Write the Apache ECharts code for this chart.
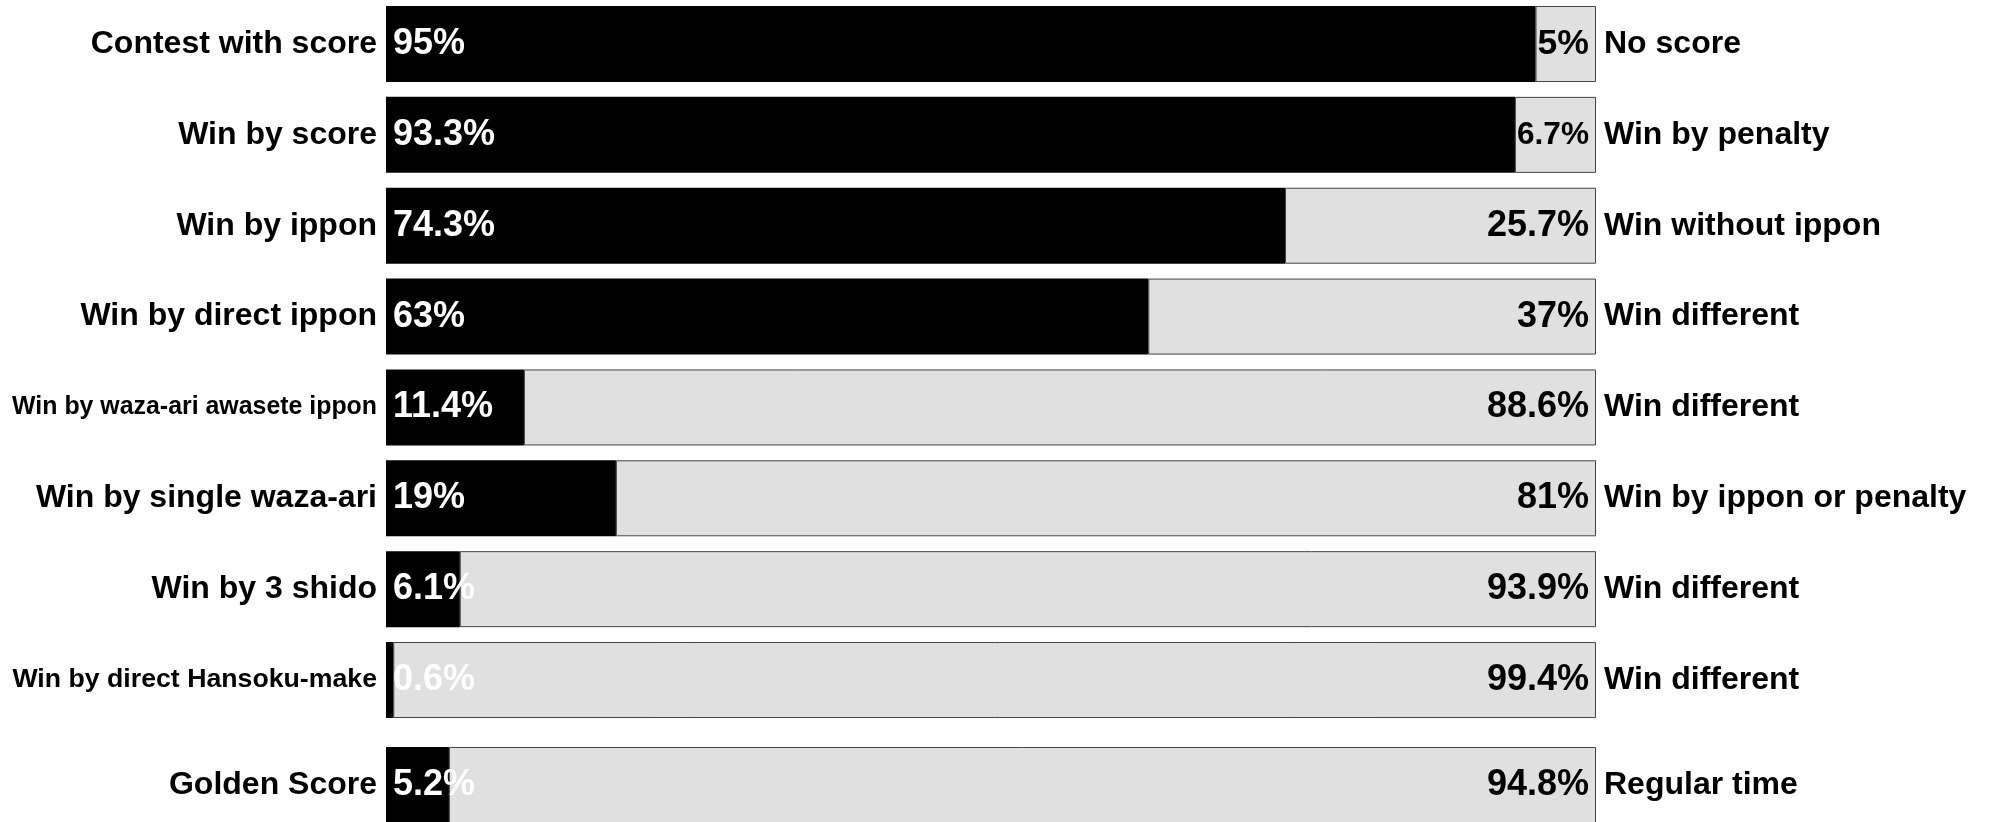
<!DOCTYPE html>
<html>
<head>
<meta charset="utf-8">
<script src="https://cdn.jsdelivr.net/npm/echarts@6/dist/echarts.min.js"></script>
<style>
html,body{margin:0;padding:0;background:#fff;}
#chart{width:1991px;height:822px;}
</style>
</head>
<body>
<div id="chart"></div>
<script>
// Main rows (top block)
const leftLabels = ['Contest with score','Win by score','Win by ippon','Win by direct ippon','Win by waza-ari awasete ippon','Win by single waza-ari','Win by 3 shido','Win by direct Hansoku-make'];
const rightLabels = ['No score','Win by penalty','Win without ippon','Win different','Win different','Win by ippon or penalty','Win different','Win different'];
const leftValues = [95, 93.3, 74.3, 63, 11.4, 19, 6.1, 0.6];
const rightValues = [5, 6.7, 25.7, 37, 88.6, 81, 93.9, 99.4];
// Separate bottom row
const leftLabels2 = ['Golden Score'];
const rightLabels2 = ['Regular time'];
const leftValues2 = [5.2];
const rightValues2 = [94.8];

const FONT = '"Liberation Sans", Arial, Helvetica, sans-serif';
const plotLeft = 386, plotRight = 1991 - 1596, plotWidth = 1596 - 386;
const band = 90.86, barW = 76;
const maxCatWidth = 366;

const measureCtx = document.createElement('canvas').getContext('2d');
function textWidth(t, size) {
  measureCtx.font = 'bold ' + size + 'px ' + FONT;
  return measureCtx.measureText(t).width;
}
// font-size that makes text fit in a width (text is squeezed when too long)
function fitSize(t, base, avail) {
  const w = textWidth(t, base);
  if (w <= avail) return base;
  return Math.max(12, Math.floor(base * avail / w * 10) / 10);
}
function richSizes() {
  const r = {};
  for (let s = 120; s <= 360; s++) {
    r['f' + s] = {fontFamily: FONT, fontWeight: 'bold', fontSize: s / 10};
  }
  return r;
}
const RICH = richSizes();
function sized(t, size, base) {
  if (size >= base) return t;
  return '{f' + Math.round(size * 10) + '|' + t + '}';
}

const chart = echarts.init(document.getElementById('chart'), null, {renderer: 'canvas'});

function catLabel(side) {
  return {
    fontFamily: FONT, fontWeight: 'bold', fontSize: 32, color: '#000',
    margin: side === 'left' ? 9 : 8,
    formatter: function (v) {
      return sized(v, fitSize(v, 32, maxCatWidth), 32);
    },
    rich: RICH
  };
}

function yAx(gridIndex, data, pos) {
  return {
    type: 'category', gridIndex: gridIndex, data: data, position: pos, inverse: true,
    axisLine: {show: false}, axisTick: {show: false}, splitLine: {show: false},
    axisLabel: catLabel(pos)
  };
}
function xAx(gridIndex) {
  return {type: 'value', gridIndex: gridIndex, min: 0, max: 100, show: false};
}

function pctLabel(color, pos, squeeze) {
  return {
    show: true, position: pos, distance: 7, color: color,
    fontFamily: FONT, fontWeight: 'bold', fontSize: 36,
    formatter: function (p) {
      const t = p.value + '%';
      if (!squeeze) return t;
      const avail = p.value / 100 * plotWidth - 9;
      return sized(t, fitSize(t, 36, avail), 36);
    },
    rich: RICH
  };
}

function seriesPair(gi, lv, rv) {
  return [
    {
      type: 'bar', xAxisIndex: gi, yAxisIndex: gi * 2, stack: 's' + gi, data: lv,
      barWidth: barW, z: 3,
      itemStyle: {color: '#000', borderWidth: 0},
      label: pctLabel('#fff', 'insideLeft', false)
    },
    {
      type: 'bar', xAxisIndex: gi, yAxisIndex: gi * 2, stack: 's' + gi, data: rv,
      barWidth: barW, z: 2,
      itemStyle: {color: '#e0e0e0', borderColor: '#444', borderWidth: 1},
      label: pctLabel('#000', 'insideRight', true)
    }
  ];
}

const option = {
  animation: false,
  backgroundColor: '#fff',
  grid: [
    {left: plotLeft, right: plotRight, top: 6 - (band - barW) / 2, height: band * leftLabels.length, outerBoundsMode: 'none', containLabel: false},
    {left: plotLeft, right: plotRight, top: 747 - (band - barW) / 2, height: band, outerBoundsMode: 'none', containLabel: false}
  ],
  xAxis: [xAx(0), xAx(1)],
  yAxis: [
    yAx(0, leftLabels, 'left'), yAx(0, rightLabels, 'right'),
    yAx(1, leftLabels2, 'left'), yAx(1, rightLabels2, 'right')
  ],
  series: [].concat(seriesPair(0, leftValues, rightValues), seriesPair(1, leftValues2, rightValues2))
};
chart.setOption(option);
</script>
</body>
</html>
